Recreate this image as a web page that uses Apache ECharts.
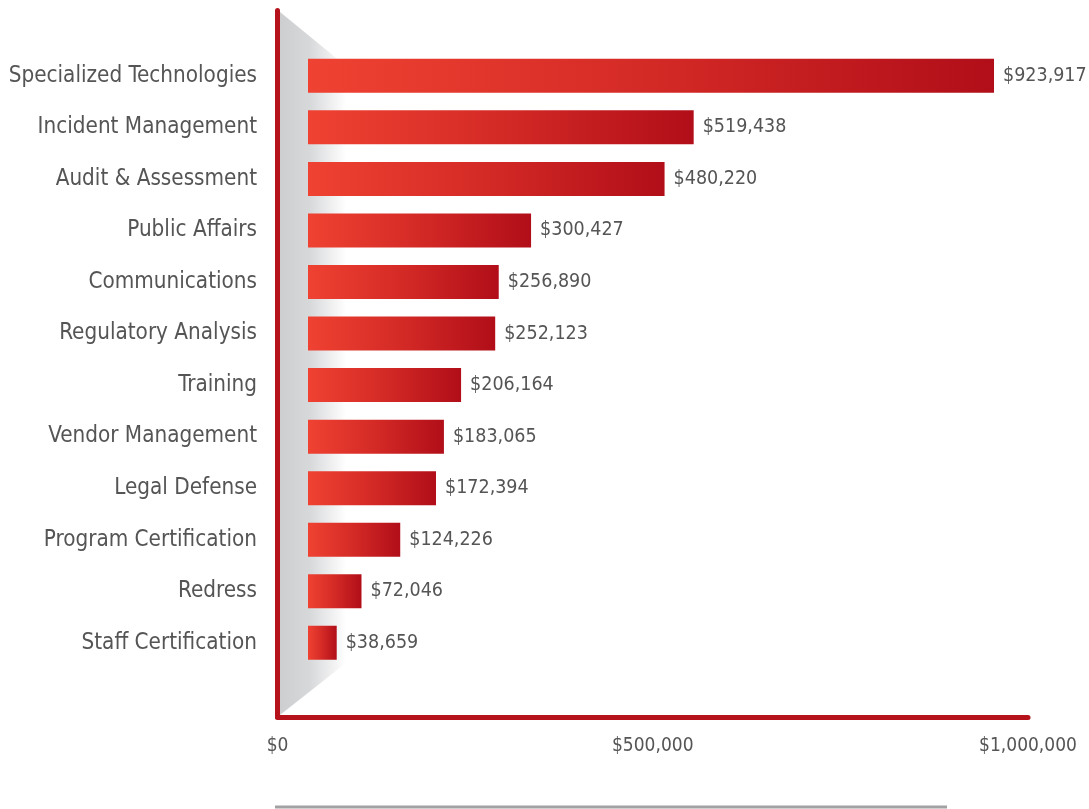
<!DOCTYPE html>
<html>
<head>
<meta charset="utf-8">
<title>Spending by Category</title>
<script src="https://cdn.jsdelivr.net/npm/echarts@6/dist/echarts.min.js"></script>
<style>
  html, body { margin: 0; padding: 0; background: #ffffff; }
  #chart { width: 1089px; height: 809px; }
</style>
</head>
<body>
<div id="chart"></div>
<script>
// Categories, top to bottom
const categories = [
  'Specialized Technologies',
  'Incident Management',
  'Audit & Assessment',
  'Public Affairs',
  'Communications',
  'Regulatory Analysis',
  'Training',
  'Vendor Management',
  'Legal Defense',
  'Program Certification',
  'Redress',
  'Staff Certification'
];

// Dollar amounts per category
const amounts = [923917, 519438, 480220, 300427, 256890, 252123, 206164, 183065, 172394, 124226, 72046, 38659];

// Value axis ticks
const axisMin = 0;
const axisMax = 1000000;
const axisStep = 500000;

const FONT = "'DejaVu Sans Condensed', 'Liberation Sans Narrow', sans-serif";
const TEXT = '#555555';
const RED = '#b5121b';

const money = v => '$' + Math.round(v).toLocaleString('en-US');

const chart = echarts.init(document.getElementById('chart'), null, { renderer: 'canvas' });

chart.setOption({
  backgroundColor: '#ffffff',
  animation: false,
  grid: [
    // bars
    { left: 308, top: 50, width: 742.5, height: 618.6, containLabel: false, outerBoundsMode: 'none' },
    // framing axes with dollar ticks
    { left: 277.5, top: 10.5, width: 750.5, height: 706.5, containLabel: false, outerBoundsMode: 'none' }
  ],
  xAxis: [
    {
      gridIndex: 0, type: 'value', min: axisMin, max: axisMax, show: false
    },
    {
      gridIndex: 1, type: 'value', min: axisMin, max: axisMax, interval: axisStep,
      axisLine: { show: true, lineStyle: { color: RED, width: 5, cap: 'round' } },
      axisTick: { show: false },
      splitLine: { show: false },
      axisLabel: {
        margin: 20,
        formatter: money,
        fontFamily: FONT,
        fontSize: 19,
        color: TEXT
      }
    }
  ],
  yAxis: [
    {
      gridIndex: 0, type: 'category', inverse: true, data: categories,
      axisLine: { show: false },
      axisTick: { show: false },
      splitLine: { show: false },
      axisLabel: {
        margin: 51,
        fontFamily: FONT,
        fontSize: 22.3,
        color: TEXT
      }
    },
    {
      gridIndex: 1, type: 'value', min: 0, max: 1,
      axisLine: { show: true, lineStyle: { color: RED, width: 5, cap: 'round' } },
      axisTick: { show: false },
      axisLabel: { show: false },
      splitLine: { show: false }
    }
  ],
  graphic: [
    // grey bevel behind the bars
    {
      type: 'polygon',
      z: 0,
      silent: true,
      shape: { points: [[280, 12], [346, 66], [346, 663], [280, 715]] },
      style: {
        fill: new echarts.graphic.LinearGradient(0, 0, 1, 0, [
          { offset: 0, color: '#cdcecf' },
          { offset: 0.45, color: '#d7d8da' },
          { offset: 1, color: '#ffffff' }
        ])
      }
    },
    // grey rule under the chart
    {
      type: 'line',
      z: 0,
      silent: true,
      shape: { x1: 275, y1: 807, x2: 947, y2: 807 },
      style: { stroke: '#a2a2a4', lineWidth: 3 }
    }
  ],
  series: [
    {
      type: 'bar',
      xAxisIndex: 0,
      yAxisIndex: 0,
      data: amounts,
      barWidth: 34,
      z: 3,
      itemStyle: {
        color: new echarts.graphic.LinearGradient(0, 0, 1, 0, [
          { offset: 0, color: '#ef4232' },
          { offset: 0.5, color: '#d42a26' },
          { offset: 1, color: '#b10e19' }
        ])
      },
      label: {
        show: true,
        position: 'right',
        distance: 9,
        formatter: p => money(p.value),
        fontFamily: FONT,
        fontSize: 19.5,
        color: TEXT
      }
    }
  ]
});
</script>
</body>
</html>
